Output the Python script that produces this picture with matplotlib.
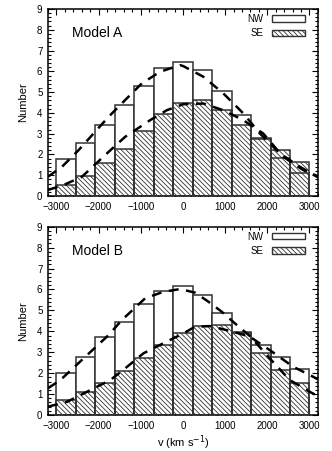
import numpy as np
import matplotlib.pyplot as plt
from matplotlib.patches import Patch

plt.rcParams['font.family'] = ['Liberation Sans', 'DejaVu Sans']
plt.rcParams['hatch.linewidth'] = 0.6
plt.rcParams['hatch.color'] = '#333333'

# 13 velocity bins between -3000 and 3000 km/s
edges = np.linspace(-3000, 3000, 14)
centers = 0.5 * (edges[:-1] + edges[1:])
width = edges[1] - edges[0]

# Model A
nw_a = [1.76, 2.53, 3.42, 4.36, 5.31, 6.18, 6.43, 6.05, 5.07, 3.88, 2.78, 1.81, 1.11]
se_a = [0.53, 0.96, 1.57, 2.28, 3.13, 3.93, 4.48, 4.62, 4.16, 3.40, 2.73, 2.20, 1.65]
fit_nw_a_x = [-3200, -2867, -2474, -2119, -1764, -1370, -975, -542, -68, 10, 483, 956, 1429, 1824, 2297, 2770, 3200]
fit_nw_a_y = [0.93, 1.41, 2.21, 3.01, 3.81, 4.62, 5.42, 5.98, 6.30, 6.25, 5.74, 4.94, 3.98, 3.01, 2.05, 1.41, 0.90]
fit_se_a_x = [-3200, -2828, -2394, -1803, -1370, -778, -383, 10, 483, 956, 1429, 1902, 2375, 2848, 3200]
fit_se_a_y = [0.29, 0.53, 0.93, 2.05, 2.85, 3.65, 4.13, 4.42, 4.45, 4.13, 3.65, 3.01, 1.89, 1.25, 0.95]

# Model B
nw_b = [1.99, 2.79, 3.71, 4.46, 5.32, 5.93, 6.15, 5.73, 4.86, 3.95, 3.36, 2.76, 2.20]
se_b = [0.70, 1.08, 1.55, 2.12, 2.71, 3.36, 3.90, 4.27, 4.30, 3.90, 2.98, 2.17, 1.51]
fit_nw_b_x = [-3200, -2907, -2313, -1764, -1448, -896, -463, -68, 286, 601, 917, 1232, 1600, 2060, 2533, 3006, 3200]
fit_nw_b_y = [1.28, 1.67, 2.79, 3.82, 4.54, 5.58, 5.89, 6.02, 5.85, 5.42, 4.94, 4.38, 3.75, 2.70, 1.67, 1.11, 0.90]
fit_se_b_x = [-3200, -2749, -2276, -1724, -1370, -936, -463, 10, 286, 641, 1192, 1587, 2060, 2611, 3085, 3200]
fit_se_b_y = [0.40, 0.63, 1.11, 1.67, 2.23, 2.95, 3.43, 3.90, 4.22, 4.25, 3.98, 3.74, 3.10, 2.31, 1.83, 1.70]

models = [
    ("Model A", nw_a, se_a, fit_nw_a_x, fit_nw_a_y, fit_se_a_x, fit_se_a_y),
    ("Model B", nw_b, se_b, fit_nw_b_x, fit_nw_b_y, fit_se_b_x, fit_se_b_y),
]

fig = plt.figure(figsize=(3.32, 4.51), dpi=100)
boxes = [[0.1446, 0.5654, 0.813, 0.4146], [0.1446, 0.0798, 0.813, 0.4175]]
edge = '#333333'
hatch = '\\\\\\\\\\\\\\'

for box, (name, nw, se, fnx, fny, fsx, fsy) in zip(boxes, models):
    ax = fig.add_axes(box)
    ax.bar(centers, nw, width=width, color='white', edgecolor=edge, linewidth=1.1, zorder=2)
    ax.bar(centers, se, width=width, fill=False, hatch=hatch, edgecolor=edge, linewidth=1.1, zorder=3)
    ax.plot(fnx, fny, color='black', lw=1.8, dashes=(4, 3), zorder=4)
    ax.plot(fsx, fsy, color='black', lw=1.8, dashes=(4, 3), zorder=4)

    ax.set_xlim(-3200, 3200)
    ax.set_ylim(0, 9)
    ax.set_xticks([-3000, -2000, -1000, 0, 1000, 2000, 3000])
    ax.set_xticks(np.arange(-3200, 3201, 200), minor=True)
    ax.set_yticks(range(10))
    ax.set_yticks(np.arange(0, 9.01, 0.2), minor=True)
    ax.tick_params(which='both', direction='in', top=True, right=True, labelsize=7, width=0.8)
    ax.tick_params(which='major', length=4, pad=4)
    ax.tick_params(which='minor', length=2)
    for s in ax.spines.values():
        s.set_linewidth(1.1)
    ax.set_ylabel('Number', fontsize=8, labelpad=6)
    ax.text(0.09, 0.872, name, transform=ax.transAxes, fontsize=10, va='center')

    handles = [Patch(facecolor='white', edgecolor=edge, linewidth=1.0, label='NW'),
               Patch(facecolor='white', edgecolor=edge, hatch=hatch, linewidth=1.0, label='SE')]
    ax.legend(handles=handles, loc='upper right', bbox_to_anchor=(0.965, 0.995),
              frameon=False, fontsize=7, markerfirst=False, handlelength=3.4,
              handleheight=0.6, labelspacing=0.45, borderaxespad=0.0, handletextpad=0.8)

ax.set_xlabel('v (km s$^{-1}$)', fontsize=8, labelpad=2)

fig.savefig('out.png', dpi=100)
